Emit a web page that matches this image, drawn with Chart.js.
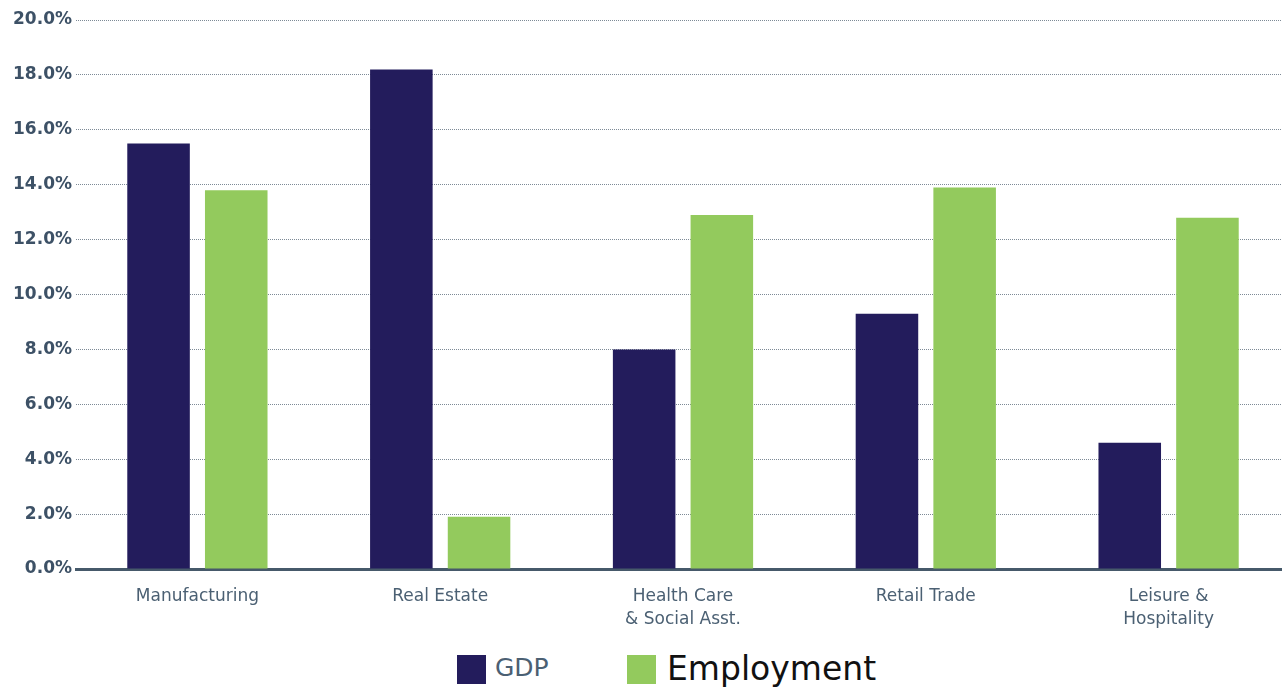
<!DOCTYPE html>
<html>
<head>
<meta charset="utf-8">
<script src="https://cdn.jsdelivr.net/npm/chart.js@4.4.1/dist/chart.umd.min.js"></script>
<style>
  html, body { margin: 0; padding: 0; background: #fff; }
  #wrap { position: relative; width: 1282px; height: 688px; overflow: hidden; }
  #box { position: absolute; left: 0; top: 0; width: 1290px; height: 640px; }
  #legend { position: absolute; left: 457px; top: 655px; height: 30px; font-family: "DejaVu Sans", sans-serif; }
  .item { position: absolute; top: 0; white-space: nowrap; }
  .sw { position: absolute; top: 0; width: 29px; height: 29px; }
  .lbl { position: absolute; }
</style>
</head>
<body>
<div id="wrap">
  <div id="box"><canvas id="sector-chart"></canvas></div>
  <div id="legend"></div>
</div>
<script>
// Datos del gráfico
const sectores = [
  'Manufacturing',
  'Real Estate',
  ['Health Care', '& Social Asst.'],
  'Retail Trade',
  ['Leisure &', 'Hospitality']
];
const gdp = [15.5, 18.2, 8.0, 9.3, 4.6];
const employment = [13.8, 1.9, 12.9, 13.9, 12.8];
const seriesNames = ['GDP', 'Employment'];
const colores = ['#231c5c', '#93ca5d'];

// Leyenda en HTML (cada serie con su propio tamaño de letra)
function generarLeyenda() {
  const legend = document.getElementById('legend');
  const estilos = [
    { x: 0, textX: 38, size: 25, color: '#4b6073', top: -2 },
    { x: 170, textX: 210, size: 33, color: '#111111', top: -6 }
  ];
  seriesNames.forEach((name, i) => {
    const e = estilos[i];
    const item = document.createElement('div');
    item.className = 'item';
    item.style.left = e.x + 'px';
    item.innerHTML = '<div class="sw" style="left:0;background:' + colores[i] + '"></div>' +
      '<div class="lbl" style="left:' + (e.textX - e.x) + 'px;top:' + e.top + 'px;font-size:' + e.size + 'px;color:' + e.color + '">' + name + '</div>';
    legend.appendChild(item);
  });
}

function generarGrafica() {
  const ctx = document.getElementById('sector-chart').getContext('2d');
  new Chart(ctx, {
    type: 'bar',
    data: {
      labels: sectores,
      datasets: [
        { label: seriesNames[0], data: gdp, backgroundColor: colores[0] },
        { label: seriesNames[1], data: employment, backgroundColor: colores[1] }
      ]
    },
    options: {
      responsive: true,
      maintainAspectRatio: false,
      animation: false,
      layout: { padding: { top: 20, right: 0, left: 0, bottom: 0 } },
      datasets: {
        bar: { categoryPercentage: 0.64, barPercentage: 0.805 }
      },
      plugins: {
        legend: { display: false },
        tooltip: { enabled: false }
      },
      scales: {
        x: {
          grid: { display: false, drawTicks: false },
          border: { display: true, color: '#46596a', width: 3 },
          ticks: {
            color: '#4b6073',
            padding: 16,
            font: { family: 'DejaVu Sans', size: 17, lineHeight: 1.35 },
            maxRotation: 0,
            autoSkip: false
          },
          afterFit: s => { s.height = 71; }
        },
        y: {
          min: 0,
          max: 20,
          grid: { color: '#7d8a96', lineWidth: 1, drawTicks: false },
          border: { display: false, dash: [1, 1] },
          ticks: {
            stepSize: 2,
            color: '#3d5166',
            padding: 4,
            font: { family: 'DejaVu Sans', size: 17, weight: 'bold' },
            callback: v => v.toFixed(1) + '%'
          },
          afterFit: s => { s.width = 76; }
        }
      }
    }
  });
}

generarGrafica();
generarLeyenda();
</script>
</body>
</html>
